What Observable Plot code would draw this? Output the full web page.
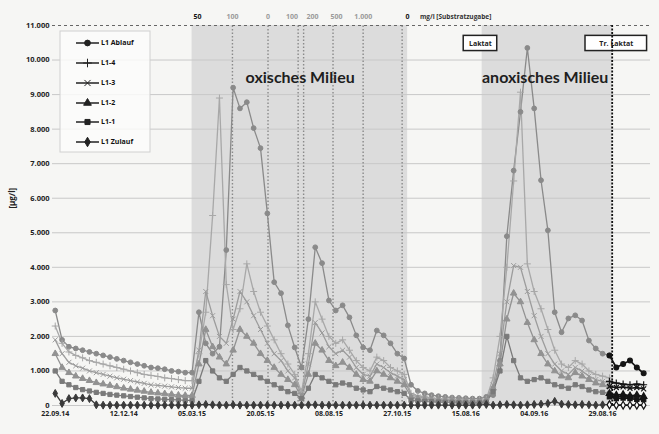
<!DOCTYPE html>
<html><head><meta charset="utf-8">
<script src="https://cdn.jsdelivr.net/npm/d3@7"></script>
<script src="https://cdn.jsdelivr.net/npm/@observablehq/plot@0.6"></script>
<style>
html,body{margin:0;padding:0;background:#f6f6f4;}
#chart{position:relative;width:659px;height:434px;}
</style></head><body><div id="chart"></div>
<script>
// ---- data ----
const seriesNames = ["L1 Ablauf","L1-4","L1-3","L1-2","L1-1","L1 Zulauf"];
const seriesColors = ["#8a8a8a","#a8a8a8","#9c9c9c","#929292","#7a7a7a","#3a3a3a"];
const seriesSymbols = ["circle","plus","times","triangle","square","diamond"];
const dateLabels = ["22.09.14","12.12.14","05.03.15","20.05.15","08.08.15","27.10.15","15.08.16","04.09.16","29.08.16"];
const dateTickIndex = [0,10,20,30,40,50,60,70,80];
const yTicks = [0,1000,2000,3000,4000,5000,6000,7000,8000,9000,10000,11000];

const ablauf = [2750,1900,1700,1650,1600,1550,1500,1450,1400,1350,1300,1250,1200,1150,1100,1080,1050,1000,980,950,
  950,2700,1800,1500,1700,4500,9200,8600,8780,8030,7450,5560,3570,3250,2320,1680,1100,2500,4580,4120,3040,2750,2900,2550,2030,1680,1600,2170,2030,1800,1500,1360,
  600,420,350,300,270,250,230,220,210,200,
  200,250,300,1300,4900,6800,8500,10350,8600,6520,5070,2700,2120,2520,2610,2460,1880,1650,1500,1450];
const l14 = [2300,1800,1550,1450,1380,1300,1250,1200,1150,1100,1050,1000,950,900,870,840,800,780,750,720,
  720,1500,2700,5500,8900,3500,2200,2800,4100,3300,2700,2300,1900,1500,1200,900,400,1500,3000,2500,2000,1800,1900,1600,1300,1100,1000,1400,1300,1100,1000,900,
  350,280,250,220,200,190,180,170,160,150,
  150,180,800,2000,4000,6500,9070,4100,3300,2800,2200,1600,1200,1100,1300,1200,1000,900,850,800];
const l13 = [1900,1500,1250,1150,1080,1000,950,900,850,800,760,720,680,640,600,580,560,540,520,500,
  500,1600,3300,2600,2000,1800,2500,3300,3000,2600,2200,1800,1500,1300,1000,800,300,1200,2400,2100,1700,1500,1600,1400,1100,900,850,1200,1100,950,850,750,
  300,250,220,200,180,170,160,150,140,130,
  130,150,600,1500,3000,4050,4000,3300,2600,2000,1500,1200,1000,900,1100,1000,850,750,700,650];
const l12 = [1500,1100,950,850,780,720,660,620,580,540,500,470,440,410,380,360,340,320,300,290,
  290,1200,2200,1700,1400,1200,1600,2200,2000,1800,1500,1300,1100,900,750,600,250,900,1800,1600,1300,1150,1250,1100,900,750,700,1000,900,800,700,600,
  250,200,180,160,150,140,130,120,110,100,
  100,120,500,1200,2500,3250,3000,2400,1900,1500,1200,1000,850,800,950,850,750,650,600,550];
const l11 = [1000,700,600,520,460,420,380,350,320,300,280,260,240,220,200,190,180,170,160,150,
  150,700,1300,1000,800,700,900,1100,1000,900,800,700,600,500,400,350,200,500,900,800,700,600,650,600,500,450,400,550,500,450,400,350,
  150,130,120,110,100,90,90,80,80,80,
  80,100,400,1000,2000,1300,800,700,750,800,700,600,550,500,600,550,450,400,380,350];
const zulauf = [350,60,200,220,220,200,20,10,10,10,10,10,10,10,10,10,10,10,10,10,
  10,20,30,20,10,10,20,10,10,10,10,10,10,10,10,10,10,20,20,10,10,10,10,10,10,10,10,10,10,10,10,10,
  10,10,10,10,10,10,10,10,10,10,
  20,30,10,20,30,20,10,20,30,40,60,120,40,30,20,30,20,10,20,30];

// after the lactate test line (black series)
const postStart = 81;
const ablaufPost = [1450,1100,1200,1300,1100,930];
const l14Post = [700,650,620,600,620,600];
const l13Post = [550,520,540,500,520,480];
const l12Post = [350,300,320,280,300,260];
const l11Post = [250,200,220,200,180,170];
const zulaufPost = [20,10,10,10,10,10];

const phaseStart = [20, 62.4];
const phaseEnd = [51.5, 81.4];
const phaseNames = ["oxisches Milieu","anoxisches Milieu"];
const phaseLabelIndex = [35.8, 71.6];
const substrateLineIndex = [25.9,31.1,35.5,36.3,40.6,45,50.7];
const substrateLabels = ["50","100","0","100","200","500","1.000","0"];
const substrateLabelIndex = [20.8,25.9,31.1,34.6,37.6,41.1,45,51.5];
const laktatIndex = [81.4];
const boxLabels = ["Laktat","Tr. Laktat"];
const boxIndex = [62.15, 82];

// ---- build tables ----
const mainArrays = [ablauf,l14,l13,l12,l11,zulauf];
const postArrays = [ablaufPost,l14Post,l13Post,l12Post,l11Post,zulaufPost];
const rows = [], postRows = [];
mainArrays.forEach((arr,k)=>arr.forEach((v,i)=>rows.push({s:seriesNames[k],i,v})));
postArrays.forEach((arr,k)=>arr.forEach((v,j)=>postRows.push({s:seriesNames[k],i:postStart+j,v})));
const phases = phaseNames.map((n,k)=>({n,start:phaseStart[k],end:phaseEnd[k],lab:phaseLabelIndex[k]}));
const subLabs = substrateLabels.map((t,k)=>({t,i:substrateLabelIndex[k],strong:k===0||k===substrateLabels.length-1}));
const boxes = boxLabels.map((t,k)=>({t,m:boxIndex[k],half:t.length>7?4.5:2.45}));
const fmt = d => d3.format(",")(d).replace(/,/g,".");

const plot = Plot.plot({
  width:659, height:434,
  marginLeft:52, marginRight:9, marginTop:25, marginBottom:29,
  style:{background:"transparent", fontFamily:"'Open Sans', sans-serif"},
  x:{domain:[-0.4,87], axis:null},
  y:{domain:[0,11000], axis:null},
  color:{domain:seriesNames, range:seriesColors},
  symbol:{domain:seriesNames, range:seriesSymbols},
  marks:[
    Plot.rect(phases,{x1:"start",x2:"end",y1:0,y2:11000,fill:"#d6d6d6",fillOpacity:0.8}),
    Plot.ruleY(yTicks.filter(d=>d<11000),{stroke:"#c8c8c8",strokeWidth:1}),
    Plot.ruleY([11000],{stroke:"#666",strokeDasharray:"3,3"}),
    Plot.ruleX(substrateLineIndex,{y1:0,y2:11000,stroke:"#8a8a8a",strokeDasharray:"1.5,2",strokeWidth:1.4}),
    Plot.line(rows,{x:"i",y:"v",z:"s",stroke:"s",strokeWidth:1.3}),
    Plot.dot(rows,{x:"i",y:"v",symbol:"s",stroke:"s",fill:"s",r:2.4,strokeWidth:1}),
    Plot.rect(boxes,{x1:d=>d.m-d.half,x2:d=>d.m+d.half,y1:10260,y2:10700,fill:"#fff",stroke:"#222",strokeWidth:1.5}),
    Plot.text(boxes,{x:"m",y:10480,text:"t",fontWeight:"bold",fontSize:7,fill:"#222"}),
    Plot.ruleX(laktatIndex,{y1:0,y2:11000,stroke:"#111",strokeDasharray:"2,1.5",strokeWidth:1.8}),
    Plot.line(postRows,{x:"i",y:"v",z:"s",stroke:"#151515",strokeWidth:1.7}),
    Plot.dot(postRows,{x:"i",y:"v",symbol:"s",stroke:"#151515",fill:d=>d.s==="L1 Zulauf"?"#fff":"#151515",r:2.4,strokeWidth:1.2}),
    Plot.axisY(yTicks,{tickSize:0,tickPadding:3,tickFormat:fmt,fontWeight:"bold",fontSize:7.5,fill:"#222",label:null}),
    Plot.axisX(dateTickIndex,{tickSize:0,tickPadding:6,tickFormat:(d)=>dateLabels[dateTickIndex.indexOf(d)],fontWeight:"bold",fontSize:7,fill:"#222",label:null}),
    Plot.text(["[µg/l]"],{frameAnchor:"left",y:5700,dx:-40,rotate:-90,fontWeight:"bold",fontSize:8,fill:"#222"}),
    Plot.text(subLabs,{x:"i",y:11000,dy:-9,text:"t",fill:d=>d.strong?"#111":"#9a9a9a",fontWeight:"bold",fontSize:7}),
    Plot.text(["mg/l [Substratzugabe]"],{x:53.3,y:11000,dy:-9,textAnchor:"start",fill:"#333",fontWeight:"bold",fontSize:6.5}),
    Plot.text(phases,{x:"lab",y:9480,text:"n",fontFamily:"Lato",fontWeight:"bold",fontSize:16,fill:"#1e1e1e"})
  ]
});
document.getElementById("chart").appendChild(plot);

// legend box
const svg = d3.select(plot);
const lg = svg.append("g").attr("text-anchor","start");
lg.append("rect").attr("x",60).attr("y",31).attr("width",90).attr("height",121)
  .attr("fill","#fbfbfa").attr("fill-opacity",0.85).attr("stroke","#d0d0d0");
const rowsY = [43,63,83,103,122,142];
const symMap = {circle:d3.symbolCircle,plus:d3.symbolPlus,times:d3.symbolTimes,triangle:d3.symbolTriangle,square:d3.symbolSquare,diamond:d3.symbolDiamond};
seriesNames.forEach((n,k)=>{
  const y = rowsY[k];
  lg.append("line").attr("x1",76).attr("x2",99).attr("y1",y).attr("y2",y).attr("stroke","#222").attr("stroke-width",1.5);
  lg.append("path").attr("d",d3.symbol(symMap[seriesSymbols[k]],26)).attr("transform",`translate(87.5,${y})`).attr("fill","#222").attr("stroke","#222").attr("stroke-width",1);
  lg.append("text").attr("x",101).attr("y",y).attr("dy","0.35em").attr("font-size",7).attr("font-weight","bold")
    .attr("text-anchor","start").attr("font-family","'Open Sans', sans-serif").attr("fill","#111").text(n);
});
</script></body></html>
